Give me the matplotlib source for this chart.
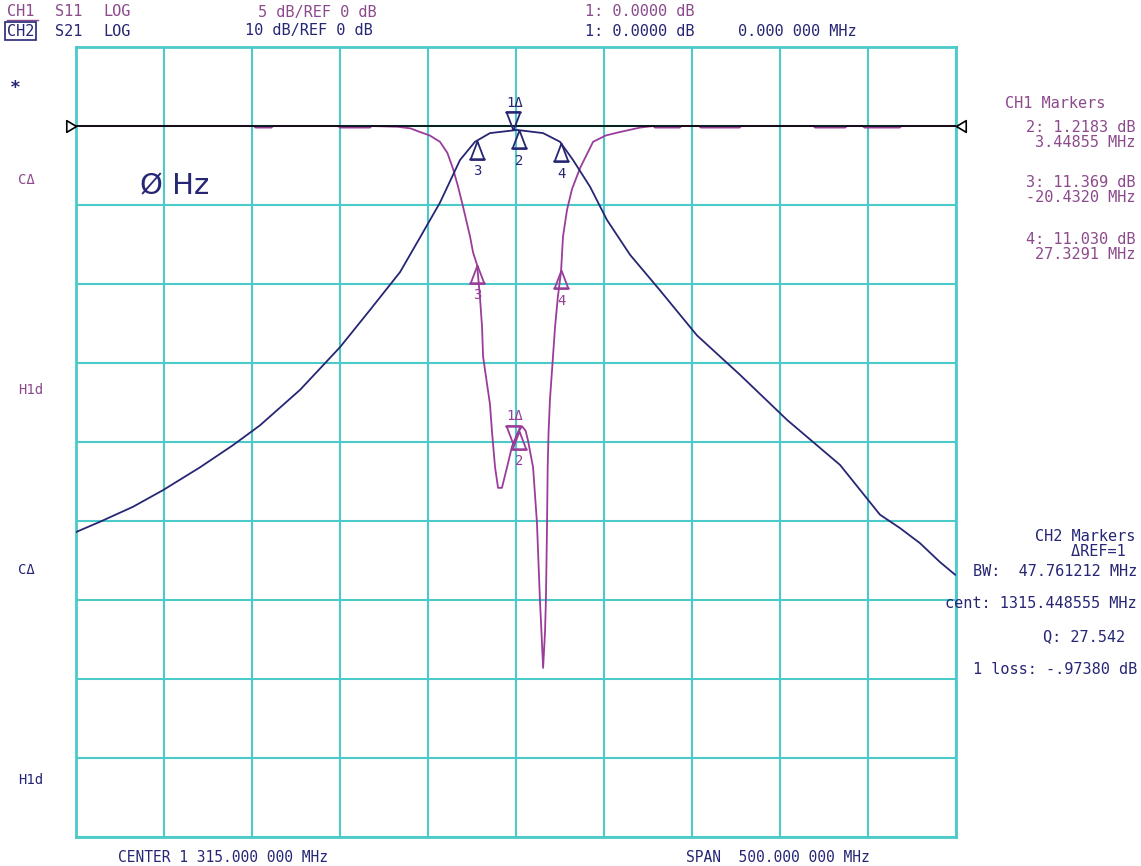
import numpy as np
import matplotlib.pyplot as plt
from matplotlib.path import Path
from matplotlib.lines import Line2D

W, H = 1141, 866

center = 1315.0
span = 500.0

# CH1 S11 trace (MHz, dB), 5 dB/div
ch1_freq = [1065, 1140, 1166, 1167, 1176, 1177, 1214, 1215, 1232, 1233, 1248, 1255,
            1260.5, 1266, 1271.8, 1276, 1279.2, 1282, 1284.9, 1288.9, 1290.6, 1292.9,
            1294.5, 1295.7, 1296.3, 1298.5, 1300.2, 1301.4, 1303.1, 1304.8, 1307.0,
            1309.9, 1312.7, 1315.6, 1318.4, 1320.5, 1321.8, 1324.7, 1326.9, 1328.6,
            1329.5, 1330.4, 1331.5, 1332.0, 1332.6, 1333.0, 1333.5, 1334.3, 1335.5,
            1337.2, 1338.8, 1340.6, 1341.7, 1344.0, 1346.8, 1351.4, 1358.8, 1366.0,
            1374.1, 1385.5, 1393, 1394, 1408, 1409, 1419, 1420, 1442, 1443, 1484,
            1485, 1502, 1503, 1512, 1513, 1533, 1534, 1565]
ch1_db = [0.0, 0.0, 0.0, -0.1, -0.1, 0.0, 0.0, -0.1, -0.1, 0.0, -0.05, -0.15,
          -0.38, -0.6, -1.0, -1.7, -2.7, -3.8, -5.1, -7.0, -8.0, -8.8,
          -10.8, -12.7, -14.6, -16.3, -17.6, -19.4, -21.6, -22.9, -22.9,
          -21.6, -20.3, -19.5, -19.0, -19.3, -19.9, -21.6, -25.1, -30.0,
          -32.1, -34.3, -32.0, -30.0, -25.5, -21.6, -19.4, -17.3, -15.4,
          -12.7, -10.8, -9.2, -7.0, -5.3, -4.0, -2.66, -1.0, -0.6,
          -0.38, -0.1, 0.0, -0.1, -0.1, 0.0, 0.0, -0.1, -0.1, 0.0, 0.0,
          -0.1, -0.1, 0.0, 0.0, -0.1, -0.1, 0.0, 0.0]

# CH2 S21 trace (MHz, dB), 10 dB/div
ch2_freq = [1065.0, 1078.6, 1097.4, 1114.4, 1135.5, 1154.2, 1169.5, 1192.3, 1215.0,
            1232.0, 1249.1, 1260.5, 1271.8, 1283.2, 1291.7, 1300.2, 1315.6, 1330.4,
            1340.0, 1347.4, 1357.1, 1366.7, 1379.8, 1396.8, 1417.8, 1442.3, 1469.0,
            1499.1, 1521.8, 1533.2, 1544.5, 1555.9, 1564.5]
ch2_db = [-51.4, -50.1, -48.2, -46.1, -43.2, -40.4, -37.9, -33.4, -28.0,
          -23.3, -18.5, -14.1, -9.7, -4.3, -2.0, -0.9, -0.5, -0.9,
          -2.0, -4.3, -7.7, -11.9, -16.3, -20.8, -26.5, -31.5, -37.2,
          -42.9, -49.2, -50.9, -52.8, -55.2, -56.8]

# markers, delta mode relative to marker 1
mk_ref = 1313.3
mk_delta = [0.0, 3.44855, -20.4320, 27.3291]
mk_names = ['1', '2', '3', '4']

grid_c = '#4cc9c9'
ch1_c = '#9a3c9a'
ch1_txt = '#8c4a8c'
ch2_c = '#262675'

fig = plt.figure(figsize=(W / 100, H / 100), dpi=100)
ax1 = fig.add_axes([76 / W, (H - 837) / H, 880 / W, 790 / H])
ax1.set_xlim(center - span / 2, center + span / 2)
ax1.set_ylim(-45, 5)
ax1.set_xticks(np.arange(center - span / 2, center + span / 2 + 1, span / 10))
ax1.set_yticks(np.arange(-45, 6, 5))
ax1.grid(True, color=grid_c, lw=1.5)
ax1.tick_params(length=0, labelbottom=False, labelleft=False)
for s in ax1.spines.values():
    s.set_color(grid_c)
    s.set_linewidth(2)

ax2 = ax1.twinx()
ax2.set_ylim(-90, 10)
ax2.set_yticks([])
for s in ax2.spines.values():
    s.set_visible(False)

ax1.plot(ch1_freq, ch1_db, color=ch1_c, lw=1.3, zorder=3)
ax1.axhline(0, color='black', lw=1.2, zorder=4)
ax2.plot(ch2_freq, ch2_db, color=ch2_c, lw=1.3, zorder=3)

# reference position triangles on both sides
ref_r = Path([(0, 0), (-1, 0.6), (-1, -0.6), (0, 0)])
ref_l = Path([(0, 0), (1, 0.6), (1, -0.6), (0, 0)])
ax1.plot([center - span / 2], [0], marker=ref_r, ms=14, mfc='none', mec='black',
         mew=1.2, clip_on=False, zorder=5)
ax1.plot([center + span / 2], [0], marker=ref_l, ms=14, mfc='none', mec='black',
         mew=1.2, clip_on=False, zorder=5)

up = Path([(0, 0), (-0.38, -1), (0.38, -1), (0, 0), (0.45, -1), (-0.45, -1)],
          [Path.MOVETO, Path.LINETO, Path.LINETO, Path.LINETO, Path.MOVETO, Path.LINETO])
down = Path([(0, 0), (-0.38, 1), (0.38, 1), (0, 0), (0.45, 1), (-0.45, 1)],
            [Path.MOVETO, Path.LINETO, Path.LINETO, Path.LINETO, Path.MOVETO, Path.LINETO])

for ax, fx, fy, col in [(ax1, ch1_freq, ch1_db, ch1_c), (ax2, ch2_freq, ch2_db, ch2_c)]:
    for name, d in zip(mk_names, mk_delta):
        f = mk_ref + d
        v = np.interp(f, fx, fy)
        if name == '1':
            ax.plot([f], [v], marker=down, ms=26, mfc='none', mec=col, mew=1.3, zorder=6)
            ax.annotate('1\u0394', (f, v), xytext=(1, 20), textcoords='offset points',
                        ha='center', va='center', color=col, fontsize=10,
                        family='DejaVu Sans Mono')
        else:
            ax.plot([f], [v], marker=up, ms=26, mfc='none', mec=col, mew=1.3, zorder=6)
            ax.annotate(name, (f, v), xytext=(0, -22), textcoords='offset points',
                        ha='center', va='center', color=col, fontsize=10,
                        family='DejaVu Sans Mono')


def ftext(x, y, s, color, size=11, ha='left', **kw):
    return fig.text(x / W, 1 - y / H, s, color=color, fontsize=size, ha=ha,
                    va='center', family='DejaVu Sans Mono', **kw)


# header
ftext(7, 12, 'CH1', ch1_txt)
fig.add_artist(Line2D([7 / W, 38 / W], [1 - 20 / H, 1 - 20 / H], color=ch1_txt, lw=1))
ftext(55, 12, 'S11', ch1_txt)
ftext(103, 12, 'LOG', ch1_txt)
ftext(258, 12, '5 dB/REF 0 dB', ch1_txt)
ftext(7, 31, 'CH2', ch2_c, bbox=dict(boxstyle='square,pad=0.12', fc='none', ec=ch2_c, lw=1.2))
ftext(55, 31, 'S21', ch2_c)
ftext(103, 31, 'LOG', ch2_c)
ftext(245, 31, '10 dB/REF 0 dB', ch2_c)
ftext(585, 12, '1: 0.0000 dB', ch1_txt)
ftext(585, 31, '1: 0.0000 dB', ch2_c)
ftext(738, 31, '0.000 000 MHz', ch2_c)

# left annotations
ftext(10, 88, '*', ch2_c, size=13, weight='bold')
ftext(18, 180, 'C\u0394', ch1_txt, size=10)
ftext(18, 390, 'H1d', ch1_txt, size=10)
ftext(18, 570, 'C\u0394', ch2_c, size=10)
ftext(18, 780, 'H1d', ch2_c, size=10)

fig.text(140 / W, 1 - 186 / H, '\u00d8 Hz', color=ch2_c, fontsize=21, va='center',
         family='DejaVu Sans')

# right marker panels
ftext(1005, 103, 'CH1 Markers', ch1_txt)
ftext(1135, 135, '2: 1.2183 dB\n3.44855 MHz', ch1_txt, ha='right', linespacing=0.95,
      multialignment='right')
ftext(1135, 190, '3: 11.369 dB\n-20.4320 MHz', ch1_txt, ha='right', linespacing=0.95,
      multialignment='right')
ftext(1135, 247, '4: 11.030 dB\n27.3291 MHz', ch1_txt, ha='right', linespacing=0.95,
      multialignment='right')

ftext(1135, 544, 'CH2 Markers\n\u0394REF=1 ', ch2_c, ha='right', linespacing=0.95,
      multialignment='right')
ftext(1137, 572, 'BW:  47.761212 MHz', ch2_c, ha='right')
ftext(1137, 604, 'cent: 1315.448555 MHz', ch2_c, ha='right')
ftext(1125, 637, 'Q: 27.542', ch2_c, ha='right')
ftext(1137, 670, '1 loss: -.97380 dB', ch2_c, ha='right')

# footer
ftext(118, 857, 'CENTER 1 315.000 000 MHz', ch2_c, size=10.5)
ftext(686, 857, 'SPAN  500.000 000 MHz', ch2_c, size=10.5)

fig.savefig('out.png', dpi=100, facecolor='white')
